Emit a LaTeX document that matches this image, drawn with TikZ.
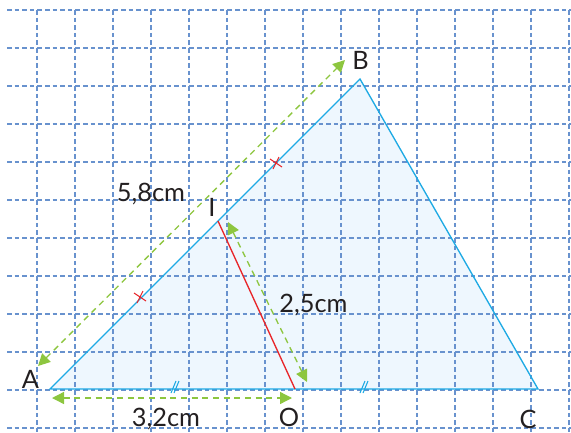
\documentclass[tikz,border=0pt]{standalone}
\usepackage{fontspec}
\setmainfont{Lato}
\usetikzlibrary{arrows.meta,positioning}
\definecolor{gridblue}{RGB}{104,146,206}
\definecolor{sideblue}{RGB}{30,170,228}
\definecolor{fillblue}{RGB}{238,247,254}
\definecolor{measgreen}{RGB}{141,198,63}
\definecolor{markred}{RGB}{232,38,42}
\definecolor{textgray}{RGB}{35,31,32}

\begin{document}
\begin{tikzpicture}[x=0.75pt, y=-0.75pt,
  gridline/.style={gridblue, line width=1.5pt, dash pattern=on 3.5pt off 2.2pt},
  sideline/.style={sideblue, line width=1pt},
  redline/.style={markred, line width=1pt},
  dimline/.style={measgreen, line width=1pt, dash pattern=on 4.5pt off 3.5pt,
    {Triangle[length=9pt,width=9pt]}-{Triangle[length=9pt,width=9pt]}},
  equalmark/.style={sideblue, line width=0.8pt},
  crossmark/.style={markred, line width=0.8pt},
  ptname/.style={text=textgray, inner sep=0pt, font=\fontsize{19}{22}\selectfont}
]
\useasboundingbox (0,0) rectangle (571,432);

\coordinate (A) at (50,389);
\coordinate (B) at (360,79);
\coordinate (C) at (538,389);
\coordinate (O) at (295,389);
\coordinate (I) at (218,221);

\fill[fillblue] (A) -- (B) -- (C) -- cycle;

\foreach \gx in {0,...,14}
  \draw[gridline] (37+38*\gx,10) -- (37+38*\gx,432);
\foreach \gy in {0,...,11}
  \draw[gridline] (7,10+38*\gy) -- (571,10+38*\gy);

\draw[sideline] (A) -- (B) -- (C) -- cycle;
\draw[redline] (I) -- (O);

\draw[crossmark] (134,293) -- (146,301) (143,291) -- (137,303);
\draw[crossmark] (270,159) -- (282,167) (279,157) -- (273,169);
\draw[equalmark] (171,393) -- (176,381) (174,393) -- (179,381);
\draw[equalmark] (360,393) -- (365,381) (363,393) -- (368,381);

\coordinate (ABlow) at (38,366);
\coordinate (ABhigh) at (345,60);
\coordinate (IOtop) at (228,222);
\coordinate (IObot) at (307,382);
\coordinate (AOleft) at (52,398);
\coordinate (AOright) at (292,398);
\draw[dimline] (ABlow) -- (ABhigh);
\draw[dimline] (IOtop) -- (IObot);
\draw[dimline] (AOleft) -- (AOright);

\node[ptname] (nameA) at (30.5,379) {A};
\node[ptname] (nameB) at (360.5,60.5) {B};
\node[ptname] (nameC) at (528,419) {C};
\node[ptname] (nameO) at (289,417) {O};
\node[ptname] (nameI) at (212,207.5) {I};
\node[ptname] (lenAB) at (151,194) {5,8cm};
\node[ptname] (lenIO) at (313.5,305) {2,5cm};
\node[ptname] (lenAO) at (166,419.5) {3,2cm};
\end{tikzpicture}
\end{document}
